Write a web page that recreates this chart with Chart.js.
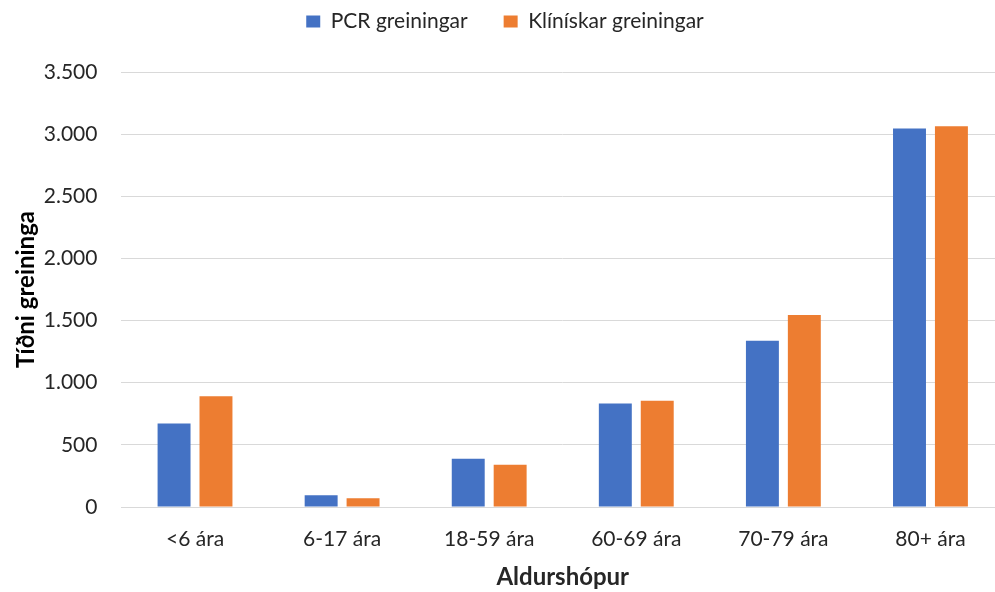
<!DOCTYPE html>
<html>
<head>
<meta charset="utf-8">
<script src="https://cdn.jsdelivr.net/npm/chart.js@4/dist/chart.umd.min.js"></script>
<style>
html,body{margin:0;padding:0;background:#fff;overflow:hidden;width:995px;height:592px;}
#wrap{width:1010px;height:592px;}
</style>
</head>
<body>
<div id="wrap"><canvas id="c" width="1010" height="592"></canvas></div>
<script>
const categories = ["<6 ára", "6-17 ára", "18-59 ára", "60-69 ára", "70-79 ára", "80+ ára"];
const pcrValues = [672, 94, 388, 832, 1338, 3045];
const clinicalValues = [891, 70, 340, 854, 1544, 3064];
const seriesNames = ["PCR greiningar", "Klínískar greiningar"];
const yTitle = "Tíðni greininga";
const xTitle = "Aldurshópur";

const FONT = "Lato, 'Open Sans', sans-serif";
const TOP_PAD = -25;
const PLOT_TOP = 72;

const legendHeight = {
  id: 'legendHeight',
  beforeUpdate(chart) {
    const lg = chart.legend;
    if (lg && !lg._patched) {
      const fit = lg.fit;
      lg.fit = function () { fit.call(this); this.height = PLOT_TOP - TOP_PAD; };
      lg._patched = true;
    }
  }
};

new Chart(document.getElementById('c'), {
  type: 'bar',
  data: {
    labels: categories,
    datasets: [
      { label: seriesNames[0], data: pcrValues, backgroundColor: '#4472C4', borderWidth: 0 },
      { label: seriesNames[1], data: clinicalValues, backgroundColor: '#ED7D31', borderWidth: 0 }
    ]
  },
  plugins: [legendHeight],
  options: {
    responsive: false,
    animation: false,
    categoryPercentage: 0.57,
    barPercentage: 0.786,
    layout: { padding: { left: 6, right: 6, top: TOP_PAD, bottom: 0 } },
    plugins: {
      legend: {
        position: 'top',
        labels: {
          boxWidth: 14, boxHeight: 12, padding: 36,
          color: '#262626',
          font: { family: FONT, size: 21 }
        }
      },
      tooltip: { enabled: false }
    },
    scales: {
      x: {
        afterFit: s => { s.height -= 20; },
        grid: { display: false, drawTicks: false },
        border: { display: true, color: '#d9d9d9', width: 1 },
        ticks: { color: '#262626', font: { family: FONT, size: 21 }, padding: 20 },
        title: { display: true, text: xTitle, color: '#262626', font: { family: FONT, size: 24, weight: 'bold' }, padding: { top: 11, bottom: 0 } }
      },
      y: {
        afterFit: s => { s.width -= 25; },
        min: 0, max: 3500,
        ticks: {
          stepSize: 500, color: '#262626', font: { family: FONT, size: 21 }, padding: 24,
          callback: v => String(v).replace(/\B(?=(\d{3})+(?!\d))/g, '.')
        },
        grid: { color: '#d9d9d9', lineWidth: 1, drawTicks: false },
        border: { display: false },
        title: { display: true, text: yTitle, color: '#000', font: { family: FONT, size: 24, weight: 'bold' }, padding: { top: 6, bottom: 4 } }
      }
    }
  }
});
</script>
</body>
</html>
